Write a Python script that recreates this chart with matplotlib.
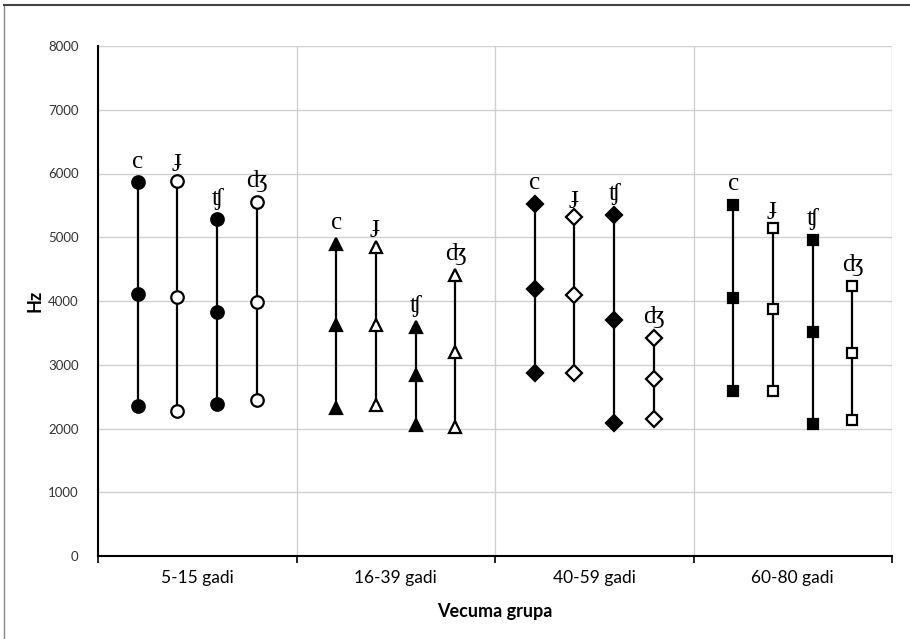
import numpy as np
import matplotlib
matplotlib.use('Agg')
import matplotlib.pyplot as plt
from matplotlib.lines import Line2D

# Données
groups = ['5-15 gadi', '16-39 gadi', '40-59 gadi', '60-80 gadi']
sounds = ['c', 'ɟ', 'ʧ', 'ʤ']

# valeurs (bas, milieu, haut) par groupe d'âge
c_vals   = [[2360, 4110, 5860], [2320, 3620, 4900], [2870, 4190, 5520], [2590, 4050, 5510]]
j_vals   = [[2280, 4070, 5880], [2370, 3620, 4850], [2870, 4090, 5310], [2590, 3880, 5140]]
tsh_vals = [[2380, 3830, 5280], [2060, 2840, 3600], [2080, 3700, 5350], [2070, 3510, 4960]]
dzh_vals = [[2440, 3990, 5550], [2030, 3200, 4410], [2150, 2780, 3420], [2140, 3190, 4240]]
series = [c_vals, j_vals, tsh_vals, dzh_vals]

group_markers = ['o', '^', 'D', 's']
marker_sizes = [9, 8.5, 8.5, 7.5]
filled = [True, False, True, False]
offsets = [-0.3, -0.1, 0.1, 0.3]

fig = plt.figure(figsize=(9.1, 6.39), dpi=100)
ax = fig.add_axes([98/910, 1-556/639, 794/910, 510/639])

for g in range(len(groups)):
    for s in range(len(sounds)):
        vals = series[s][g]
        x = g + 0.5 + offsets[s]
        ax.plot([x]*len(vals), vals, '-', color='black', lw=1.6, zorder=2,
                marker=group_markers[g], ms=marker_sizes[g], mew=1.6,
                mec='black', mfc='black' if filled[s] else 'white')
        ax.annotate(sounds[s], (x, max(vals)), xytext=(0, 7), textcoords='offset points',
                    ha='center', va='bottom', fontsize=18,
                    family=['Liberation Serif', 'DejaVu Serif'])

ax.set_xlim(0, 4)
ax.set_ylim(0, 8000)
ax.set_yticks(np.arange(0, 8001, 1000))
ax.set_xticks([0, 1, 2, 3, 4])
ax.set_xticklabels([])
ax.set_xticks([0.5, 1.5, 2.5, 3.5], minor=True)
ax.set_xticklabels(groups, minor=True, fontsize=12.5, family='Lato')
ax.tick_params(axis='x', which='minor', length=0, pad=10)
ax.tick_params(axis='x', which='major', length=5, width=1.2, direction='out')
ax.tick_params(axis='y', length=0, labelsize=9.5, pad=14, labelcolor='#333333')
for lab in ax.get_yticklabels():
    lab.set_family('Lato')

ax.grid(True, which='major', color='#d0d0d0', lw=1)
ax.set_axisbelow(True)
for side in ['top', 'right']:
    ax.spines[side].set_visible(False)
ax.spines['left'].set_linewidth(1.5)
ax.spines['bottom'].set_linewidth(1.5)

ax.set_ylabel('Hz', fontsize=13, fontweight='bold', family='Lato', labelpad=3)
ax.set_xlabel('Vecuma grupa', fontsize=13, fontweight='bold', family='Lato', labelpad=12)

# cadre extérieur
fig.add_artist(Line2D([4/910, 4/910], [0, 1-5/639], color='#888888', lw=1))
fig.add_artist(Line2D([4/910, 1], [1-5/639, 1-5/639], color='#444444', lw=1.5))

fig.savefig('out.png', dpi=100)
